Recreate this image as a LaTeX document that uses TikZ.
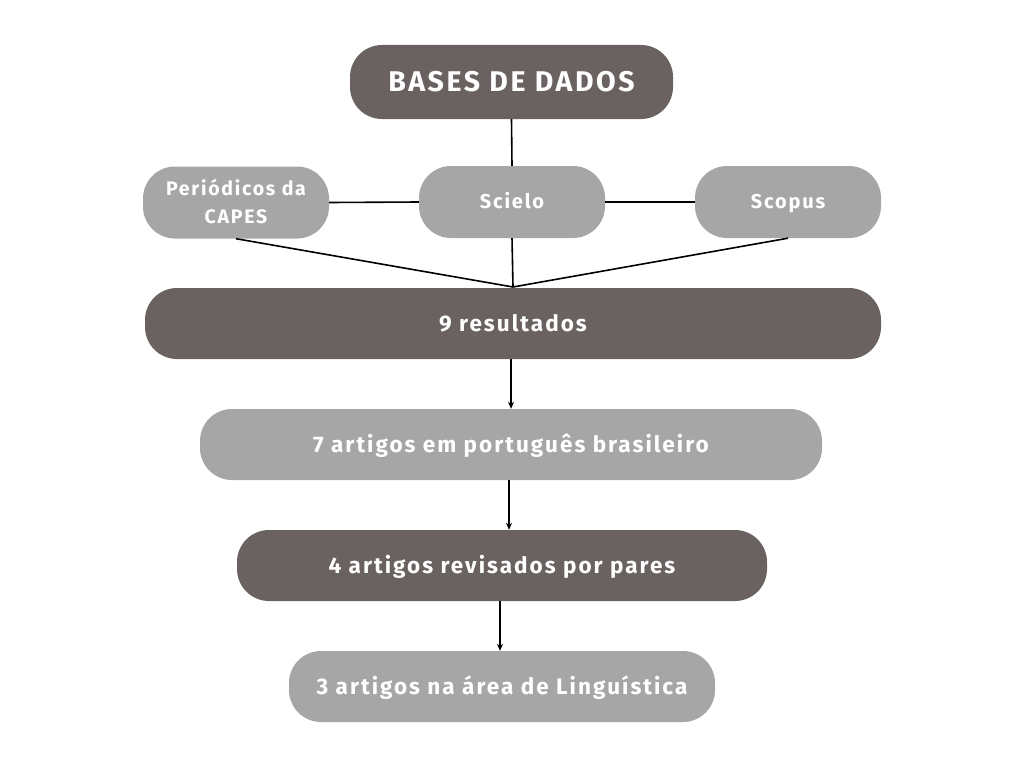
\documentclass[tikz,border=0pt]{standalone}
\usepackage{fontspec}
\setmainfont{Fira Sans}[LetterSpace=9]
\usetikzlibrary{arrows.meta}
\definecolor{darkbox}{RGB}{106,98,96}
\definecolor{lightbox}{RGB}{166,166,166}
\begin{document}
\begin{tikzpicture}[x=1pt,y=-1pt,
  box/.style={rounded corners=32pt,text=white,font=\bfseries,inner sep=0pt,align=center},
  darkb/.style={box,fill=darkbox},
  lightb/.style={box,fill=lightbox},
  big/.style={font=\bfseries\fontsize{22.5}{24}\selectfont,text height=16pt,text depth=0pt,minimum height=71pt},
  small/.style={minimum width=186pt,minimum height=72pt,font=\bfseries\fontsize{20}{28}\selectfont,text height=13.8pt,text depth=0pt},
  conn/.style={line width=1.6pt,black},
  arr/.style={conn,-{Stealth[length=7pt,width=6pt]}}]
\fill[white] (0,0) rectangle (1024,768);
\useasboundingbox (0,0) rectangle (1024,768);
\node[darkb,minimum width=323pt,minimum height=74pt,font=\bfseries\fontsize{28.5}{30}\selectfont,text height=19.6pt,text depth=0pt] (bases) at (511.5,82) {BASES DE DADOS};
\node[lightb,small,font=\bfseries\fontsize{19.5}{28}\selectfont,text height=41.6pt] (peri) at (236,202.5) {Periódicos da\\CAPES};
\node[lightb,small] (scielo) at (512,202) {Scielo};
\node[lightb,small] (scopus) at (788,202) {Scopus};
\node[darkb,big,minimum width=736pt] (res) at (513,323.5) {9 resultados};
\node[lightb,big,minimum width=622pt] (pt) at (511,444.5) {7 artigos em português brasileiro};
\node[darkb,big,minimum width=530pt] (rev) at (502,565.5) {4 artigos revisados por pares};
\node[lightb,big,minimum width=426pt] (ling) at (502,686.5) {3 artigos na área de Linguística};
\coordinate (join) at (513,287);
\draw[conn] (bases.south) -- (scielo.north);
\draw[conn] (peri.east) -- (scielo.west);
\draw[conn] (scielo.east) -- (scopus.west);
\draw[conn] (peri.south) -- (join);
\draw[conn] (scielo.south) -- (join);
\draw[conn] (scopus.south) -- (join);
\draw[arr] (res.south -| 511,0) -- (pt.north -| 511,0);
\draw[arr] (pt.south -| 509,0) -- (rev.north -| 509,0);
\draw[arr] (rev.south -| 500,0) -- (ling.north -| 500,0);
\end{tikzpicture}
\end{document}
